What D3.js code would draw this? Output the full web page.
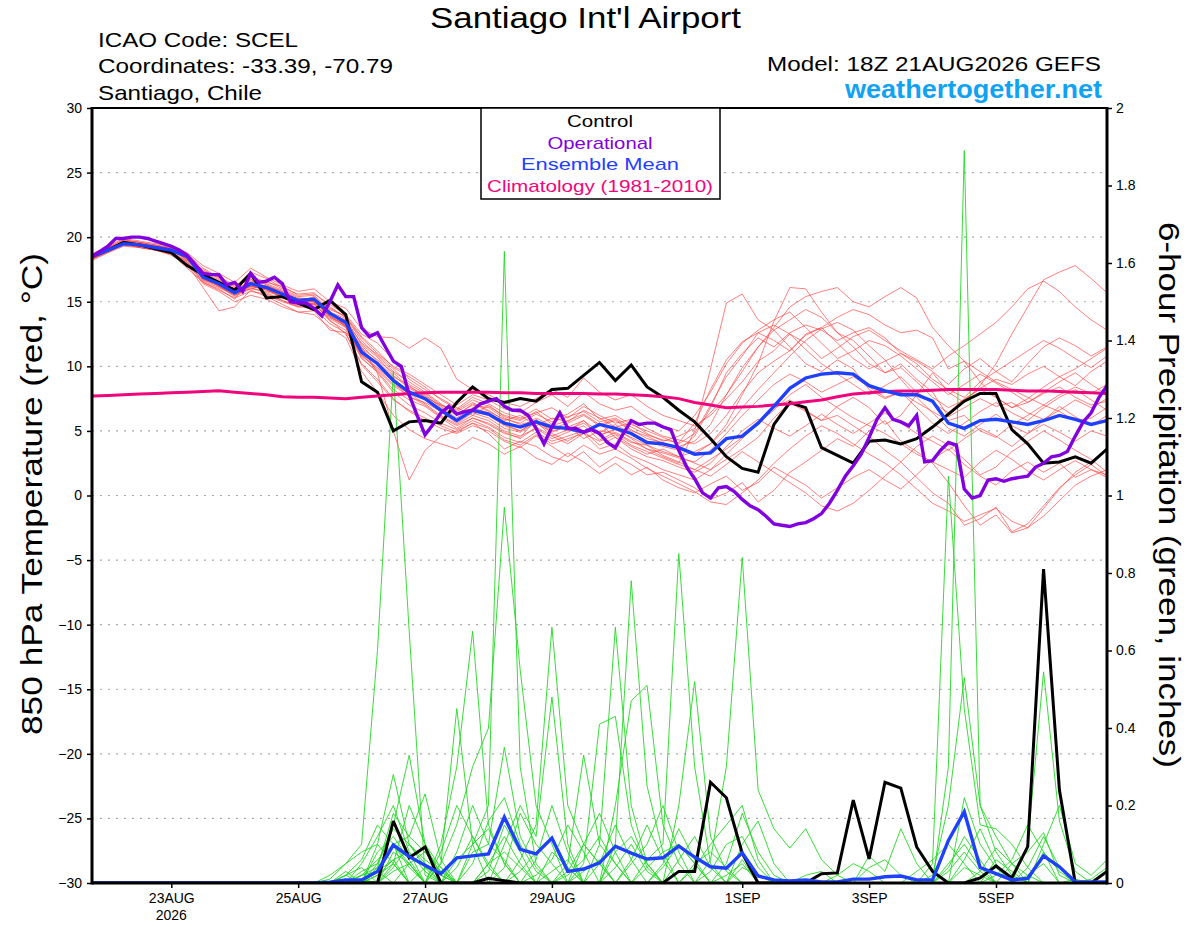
<!DOCTYPE html>
<html>
<head>
<meta charset="utf-8">
<script src="https://cdn.jsdelivr.net/npm/d3@7"></script>
<style>
	body { margin: 0; background: #fff; }
	svg { display: block; }
	text { font-family: "Liberation Sans", Arial, Helvetica, sans-serif; }
</style>
</head>
<body>
<svg id="chart" width="1200" height="927"></svg>
<script>
// run 18Z 21AUG2026, 6-hourly steps (operational is 3-hourly)
const runStart = new Date(Date.UTC(2026, 7, 21, 18));
const runEnd = new Date(Date.UTC(2026, 8, 6, 18));

const tickDates = ["2026-08-23", "2026-08-25", "2026-08-27", "2026-08-29", "2026-09-01", "2026-09-03", "2026-09-05"];
const tickLabels = ["23AUG", "25AUG", "27AUG", "29AUG", "1SEP", "3SEP", "5SEP"];
const tempTicks = [30, 25, 20, 15, 10, 5, 0, -5, -10, -15, -20, -25, -30];
const gridTemps = [25, 20, 15, 10, 5, 0, -5, -10, -15, -20, -25];
const precipTicks = [0, 0.2, 0.4, 0.6, 0.8, 1, 1.2, 1.4, 1.6, 1.8, 2];

const legendItems = ["Control", "Operational", "Ensemble Mean", "Climatology (1981-2010)"];

// 850 hPa temperature, deg C
const controlTemp = [18.5,19.0,19.6,19.4,19.1,18.8,17.8,17.1,16.5,15.9,
	17.2,15.3,15.4,14.9,14.4,15.1,14.0,8.8,8.0,5.0,
	5.7,5.8,5.6,7.2,8.4,7.5,7.2,7.5,7.3,8.2,
	8.3,9.3,10.3,8.9,10.1,8.4,7.6,6.6,5.7,4.4,
	3.0,2.1,1.8,5.5,7.2,6.8,3.7,3.1,2.5,4.2,
	4.3,4.0,4.4,5.3,6.3,7.3,7.9,7.9,5.1,4.0,
	2.5,2.6,3.0,2.5,3.6];

const operationalTemp = [18.5,18.9,19.3,19.9,19.9,20.0,20.0,19.9,19.7,19.5,
	19.3,19.0,18.6,17.9,17.2,17.1,17.1,16.3,16.5,15.8,
	17.2,16.5,16.6,16.9,16.4,15.0,14.9,14.9,14.5,13.9,
	15.0,16.3,15.4,15.4,13.0,12.3,12.6,11.5,10.4,10.0,
	7.8,6.2,4.7,5.5,6.4,6.9,6.3,6.5,6.6,7.1,
	7.3,7.5,6.9,6.6,6.6,6.2,5.2,4.0,5.3,6.4,
	5.2,5.2,4.9,5.1,4.8,4.1,3.7,4.8,5.8,5.5,
	5.6,5.6,5.3,5.1,3.5,2.2,1.3,0.2,-0.2,0.6,
	0.7,0.3,-0.3,-0.8,-1.1,-1.6,-2.2,-2.3,-2.4,-2.2,
	-2.1,-1.8,-1.4,-0.6,0.4,1.5,2.3,3.2,4.5,5.9,
	6.8,5.9,5.7,5.4,6.2,2.6,2.7,3.5,4.1,3.9,
	0.5,-0.2,0.0,1.2,1.3,1.1,1.3,1.4,1.5,2.2,
	2.5,3.0,3.1,3.4,4.6,5.7,6.4,7.6,8.5];

const meanTemp = [18.5,19.0,19.5,19.4,19.2,19.0,18.5,16.9,16.4,15.7,
	16.4,16.1,15.6,15.1,15.2,14.1,13.4,11.1,10.2,8.9,
	8.0,7.5,6.6,5.8,6.6,6.3,5.6,5.3,5.7,5.3,
	5.2,4.9,5.5,5.2,4.8,4.1,4.0,3.7,3.2,3.3,
	4.4,4.6,5.6,6.9,8.3,9.1,9.4,9.5,9.4,8.5,
	8.1,7.8,7.8,7.3,5.6,5.2,5.8,5.9,5.7,5.5,
	5.8,6.2,5.9,5.5,5.8];

const climoTemp = [7.7,7.75,7.8,7.85,7.9,7.95,8.0,8.05,8.1,8.0,
	7.9,7.8,7.65,7.6,7.6,7.55,7.5,7.6,7.7,7.8,
	7.9,7.95,8.0,8.0,8.0,8.0,7.95,7.95,7.9,7.9,
	7.9,7.9,7.85,7.85,7.8,7.75,7.65,7.5,7.2,7.0,
	6.8,6.85,6.9,7.0,7.1,7.25,7.4,7.65,7.85,7.95,
	8.05,8.1,8.1,8.15,8.2,8.2,8.2,8.2,8.15,8.1,
	8.1,8.05,8.0,7.95,7.9];

// ensemble members, 850 hPa temperature
const ensembleTemp = [
	[18.6,19.2,19.8,19.6,19.4,19.1,18.2,17.5,16.8,16.2,17.0,16.5,16.2,15.5,15.6,14.8,14.0, 12.5,11.8,10.5,9.0,8.2,7.5, 6.8,6.2,7.0,6.1,5.8,6.5,5.5,5.0,5.8,4.6,5.2,4.4,3.6,3.0,2.5, 5.0,9.8,14.9,15.6,13.6,12.8,11.5,10.2,9.6,10.5,9.8,8.2,7.5,8.0,7.2,6.5, 5.8,6.2,5.0,4.5,5.5,6.2,7.0,6.5,5.8,6.0,6.8],
	[18.4,19.1,19.6,19.5,19.0,18.7,17.6,16.5,16.0,15.2,16.8,15.5,15.0,14.6,14.9,13.5,12.8, 10.6,9.6,8.2,7.4,6.9,6.0, 5.2,6.0,5.5,4.8,4.5,5.9,4.8,4.2,5.0,5.6,4.5,3.8,3.2,3.6,3.0, 3.4,4.0,5.5,7.8,10.2,13.5,16.1,16.0,14.2,12.6,12.0,10.8,9.5,10.2,9.0,8.0, 6.1,6.8,7.5,6.9,7.2,6.4,5.9,6.6,7.4,6.8,7.5],
	[18.5,19.0,19.7,19.3,19.3,19.2,18.6,17.2,16.2,15.6,16.0,16.3,15.8,15.2,15.0,13.9,13.2, 11.6,10.4,9.2,8.5,7.6,7.0, 6.5,7.2,6.6,5.8,6.2,5.4,6.0,5.7,6.6,6.0,5.3,5.6,4.8,4.2,4.6, 5.2,6.4,7.8,9.6,11.5,13.0,14.6,15.4,15.8,16.1,15.0,14.6,15.4,16.1,15.3,13.0, 11.6,10.4,8.8,7.6,6.8,7.2,7.9,8.4,7.6,7.0,7.3],
	[18.3,18.9,19.4,19.5,19.1,18.9,18.4,16.8,16.5,15.9,16.2,16.0,15.3,15.0,15.4,14.3,13.0, 10.8,9.9,8.8,7.6,7.2,6.5, 5.6,6.4,6.0,5.2,4.9,5.6,4.9,5.4,4.4,5.0,4.8,4.1,3.9,3.4,3.0, 2.5,2.0,2.8,3.6,4.5,6.0,7.2,6.5,5.8,6.9,7.6,6.8,5.5,6.2,7.8,9.5, 8.0,7.2,8.5,10.2,12.5,14.6,16.7,17.3,17.8,16.8,15.7],
	[18.7,19.3,19.9,19.7,19.5,19.3,18.8,17.8,17.2,16.5,17.6,16.9,16.3,15.8,16.0,15.0,14.5, 12.9,12.3,12.2,11.4,12.2,11.4, 9.0,8.2,7.8,7.2,6.9,7.5,8.2,7.6,9.1,8.0,7.4,7.8,6.9,6.2,5.8, 5.4,6.2,7.5,8.8,10.4,11.2,12.5,11.8,10.6,11.4,12.3,12.8,12.0,11.2,10.5,9.8, 10.8,11.6,12.5,13.4,14.6,16.0,16.6,15.8,14.6,13.6,12.8],
	[18.4,18.9,19.5,19.2,19.0,18.6,17.9,16.1,14.3,14.6,15.9,15.4,14.8,14.2,14.3,12.8,12.6, 11.5,9.5,5.0,1.2,3.5,4.6, 5.0,5.6,4.8,3.6,4.2,3.8,3.0,2.6,3.4,2.2,3.0,2.4,1.6,1.8,1.2, 0.6,-0.3,0.2,1.0,-0.5,0.4,1.8,2.6,3.5,4.4,3.8,5.0,5.8,4.2,3.4,2.5, 1.0,-0.8,-2.3,-1.5,-2.9,-2.5,-1.0,0.5,1.8,2.6,3.5],
	[18.5,19.1,19.6,19.4,19.2,19.0,18.3,17.0,16.4,15.9,16.6,16.4,15.9,15.3,15.2,14.5,13.8, 12.0,10.8,9.6,8.8,8.0,7.1, 6.3,7.0,6.8,6.0,5.5,5.8,5.2,5.6,6.2,5.4,5.8,5.0,4.6,4.0,3.8, 4.2,5.5,7.8,9.9,11.5,12.8,13.6,14.4,13.8,12.6,11.5,10.2,9.5,9.9,8.8,7.6, 6.8,7.4,8.3,9.0,8.6,9.4,10.0,9.2,8.5,9.6,10.4],
	[18.2,18.8,19.3,19.2,19.0,18.7,18.0,16.4,15.8,15.0,15.5,15.2,14.6,14.2,14.0,13.0,12.2, 9.6,8.0,6.2,5.1,4.4,4.0, 3.6,4.5,4.0,3.2,3.8,2.9,2.4,3.3,2.6,1.7,2.5,1.6,2.2,1.2,0.6, 0.2,0.9,1.5,0.4,1.0,2.2,1.5,0.8,-0.2,0.6,1.4,2.0,1.2,0.5,1.6,2.8, 3.6,2.4,1.5,0.8,1.9,2.6,1.8,2.5,1.4,2.0,1.6],
	[18.6,19.0,19.5,19.5,19.3,19.1,18.7,17.3,16.7,16.0,16.5,16.2,15.7,15.2,15.0,14.0,13.6, 11.4,10.5,9.5,8.4,7.8,6.8, 6.0,6.8,6.4,5.5,5.0,5.8,5.0,5.3,5.8,4.9,5.5,4.8,4.2,3.8,3.5, 4.6,6.8,9.5,11.0,12.2,11.5,12.6,13.2,12.8,12.0,12.6,13.0,12.2,11.0,10.4,9.6, 8.6,9.8,10.6,9.6,8.8,10.2,11.5,12.2,11.6,10.8,11.5],
	[18.5,19.0,19.4,19.3,19.1,18.9,18.5,16.7,16.2,15.4,16.0,15.8,15.4,14.9,15.1,13.8,13.1, 11.0,9.8,8.6,7.9,7.1,6.2, 5.5,6.2,5.8,5.0,4.6,5.2,4.4,4.9,5.4,4.3,4.9,4.2,3.6,3.3,2.9, 2.6,3.5,4.8,6.2,7.4,8.6,9.4,8.8,8.0,8.6,9.2,8.4,7.6,8.0,6.8,5.6, 4.8,5.6,6.5,7.2,6.4,5.8,6.8,7.6,8.2,7.4,6.6],
	[18.4,19.0,19.6,19.4,19.1,18.8,18.1,16.6,16.1,15.5,16.1,15.7,15.1,14.7,14.8,13.6,12.5, 10.2,9.0,7.5,6.5,5.8,5.2, 4.8,5.4,5.0,4.2,3.7,4.6,3.8,3.0,3.9,3.2,3.6,2.9,2.1,1.5,0.9, 0.3,-0.5,-0.7,0.2,1.2,2.5,3.6,4.6,5.4,4.8,4.0,3.2,2.5,1.6,0.5,-0.6, -1.2,-2.0,-1.5,-1.0,-2.0,-2.5,-1.6,-0.4,0.8,1.5,2.0],
	[18.6,19.1,19.7,19.6,19.3,19.0,18.4,17.1,16.6,16.0,16.9,16.3,15.6,15.1,15.3,14.2,13.5, 11.8,10.9,9.8,8.6,7.9,7.0, 6.6,7.4,6.9,6.2,5.9,6.4,6.8,6.0,6.9,6.2,5.6,5.9,5.2,4.6,4.3, 4.0,4.8,6.2,8.0,9.5,10.4,11.2,12.5,13.0,13.8,14.4,14.0,13.2,12.6,12.8,12.2, 9.8,10.4,9.6,8.8,8.2,7.6,7.0,7.8,8.4,7.9,8.6],
	[18.3,18.9,19.4,19.3,19.0,18.8,18.2,16.9,16.3,15.6,16.3,15.9,15.5,15.0,14.8,13.7,13.0, 10.7,9.5,8.0,7.0,6.4,5.6, 5.1,5.8,5.3,4.5,4.1,4.9,4.2,4.6,5.0,3.9,4.5,3.6,3.0,2.7,2.2, 1.8,2.5,3.8,5.0,5.9,5.2,4.6,5.4,6.3,5.5,4.8,5.6,6.4,5.6,4.8,4.2, 3.5,4.4,5.2,4.6,3.8,4.8,5.5,4.9,4.2,5.0,4.6],
	[18.5,19.1,19.5,19.4,19.2,19.0,18.6,17.4,16.9,16.3,16.7,16.6,16.0,15.4,15.5,14.4,13.9, 12.3,11.2,9.9,9.2,8.4,7.4, 6.7,7.6,7.1,6.4,6.0,6.7,5.9,6.3,7.1,5.9,6.2,5.5,5.0,4.5,4.0, 4.8,7.0,9.2,10.8,12.6,13.2,12.5,11.3,10.2,9.4,8.6,7.8,8.5,9.2,8.0,7.2, 6.4,7.5,8.2,7.6,6.8,7.5,8.4,9.2,9.8,10.6,11.4],
	[18.4,18.9,19.5,19.3,19.1,18.9,18.3,16.7,16.3,15.7,16.2,16.0,15.3,14.8,14.9,13.8,13.2, 11.2,10.1,8.9,8.1,7.4,6.6, 5.8,6.5,6.2,5.4,5.0,5.7,4.6,5.1,5.6,4.7,5.1,4.5,3.9,3.1,2.6, 2.0,1.5,2.4,3.4,2.6,1.8,1.0,0.2,-0.8,-1.2,-0.6,0.4,1.5,2.6,3.8,4.6, 3.9,2.8,1.6,2.2,3.4,4.2,5.0,4.3,3.5,2.8,1.8],
	[18.6,19.2,19.6,19.5,19.3,19.1,18.5,17.1,16.5,15.8,16.4,16.1,15.6,15.1,15.2,14.1,13.4, 11.3,10.2,9.1,8.0,7.5,6.7, 5.9,6.6,6.3,5.6,5.3,6.0,5.4,5.8,6.3,5.5,5.9,5.1,4.4,4.1,3.6, 3.2,4.0,5.2,6.8,8.2,9.5,10.8,12.0,12.9,13.4,12.8,11.6,10.5,9.0,7.6,6.4, 5.2,4.6,5.5,6.3,5.4,4.8,5.8,6.9,6.1,5.4,6.2],
	[18.5,19.0,19.5,19.4,19.2,18.9,18.4,16.8,16.2,15.5,16.2,15.9,15.4,14.9,15.0,13.9,13.1, 10.9,9.7,8.5,7.7,7.0,6.1, 5.4,6.0,5.6,4.9,4.4,5.3,4.6,4.0,4.8,4.2,4.7,3.9,3.4,2.9,2.4, 2.0,2.8,3.6,4.5,5.6,6.8,7.4,6.6,5.8,6.2,5.4,4.6,3.5,2.6,1.4,0.2, -0.6,-2.3,-1.8,-0.9,-2.8,-2.2,-0.8,0.6,1.6,2.4,1.5],
	[18.4,19.0,19.6,19.5,19.2,19.0,18.5,17.0,16.4,15.8,16.5,16.2,15.8,15.2,15.3,14.2,13.7, 11.7,10.7,9.3,8.3,7.7,6.9, 6.2,7.1,6.5,5.9,5.6,6.3,5.7,6.1,6.5,5.7,6.0,5.3,4.7,4.3,4.1, 5.6,8.2,10.5,11.9,12.6,12.0,11.2,12.4,13.0,11.8,10.6,9.8,10.4,11.0,10.2,9.0, 8.2,7.6,8.8,9.6,10.4,11.2,12.0,11.4,10.6,9.9,10.8],
	[18.3,18.8,19.4,19.2,19.0,18.7,18.1,16.5,15.9,15.3,15.8,15.6,15.1,14.6,14.5,13.3,12.6, 10.1,8.8,7.4,6.6,6.0,5.4, 4.9,5.6,5.2,4.3,3.9,4.7,4.0,4.4,4.8,3.6,4.0,3.1,2.6,2.0,1.6, 1.2,2.0,3.2,4.4,5.6,6.6,7.8,8.6,7.6,6.8,6.0,5.4,4.8,4.0,3.2,2.6, 2.0,1.4,2.6,3.5,2.8,1.9,1.2,2.0,2.7,2.0,1.4],
	[18.7,19.2,19.8,19.6,19.4,19.2,18.7,17.6,16.9,16.1,17.3,16.8,16.1,15.6,15.7,14.6,13.8, 12.2,11.0,10.0,9.4,8.6,7.8, 7.0,7.8,7.4,6.7,6.4,7.2,7.8,6.9,8.0,7.1,6.6,6.9,6.0,5.4,5.0, 6.2,8.0,10.2,11.8,12.8,13.6,14.2,13.0,11.8,10.6,11.2,12.0,11.6,10.8,9.8,8.8, 7.8,8.6,9.4,8.7,8.0,7.2,8.0,8.8,9.5,8.6,7.8]
];

// 6-hour precipitation, inches
const controlPrecip = [0,0,0,0,0, 0,0,0,0,0, 0,0,0,0,0, 0,0,0,0,0.16,
	0.065,0.093,0,0,0, 0.012,0.006,0,0,0, 0,0,0,0,0, 0,0,0.03,0.03,0.26,
	0.22,0.077,0,0,0, 0,0.024,0.026,0.214,0.062, 0.26,0.245,0.093,0.03,0,
	0,0.013,0.044,0.013,0.094, 0.81,0.24,0,0,0.03];

const meanPrecip = [0,0,0,0,0, 0,0,0,0,0, 0,0,0,0,0, 0.002,0.008,0.008,0.03,0.098,
	0.068,0.046,0.024,0.065,0.07, 0.075,0.17,0.087,0.075,0.116, 0.03,0.036,0.052,0.095,0.077,
	0.062,0.065,0.095,0.067,0.042, 0.038,0.078,0.018,0.008,0.005, 0.008,0.003,0.003,0.01,0.01,
	0.016,0.018,0.008,0.008,0.11, 0.184,0.04,0.024,0.008,0.012, 0.07,0.042,0.003,0.003,0.003];

const ensemblePrecip = [
	[0,0,0,0,0,0,0,0,0,0,0,0,0,0,0, .02,.05,.1,.6,1.32, .65,.02,0,0,0, .05,.12,.05,0,0, 0,0,0,.08,.12, .05,0,0,0,0, 0,.06,0,0,0, 0,0,0,0,0, 0,0,0,0,0, .04,.02,0,0,0, 0,0,0,0,0],
	[0,0,0,0,0,0,0,0,0,0,0,0,0,0,0, 0,.02,.04,0,.08, .05,0,0,0,.1, .2,1.63,.3,.05,0, 0,.03,.06,0,0, 0,.04,.1,.05,0, 0,0,0,0,0, 0,0,0,0,0, 0,0,0,0,.03, .08,.03,0,0,0, 0,0,0,0,0],
	[0,0,0,0,0,0,0,0,0,0,0,0,0,0,0, 0,0,.02,.06,.1, 0,0,.05,.15,.3, .4,.97,.55,.2,.1, 0,0,0,.04,.1, .03,0,0,0,0, .02,.05,0,0,0, 0,0,0,0,0, 0,0,0,0,0, 0,0,0,0,.02, .05,0,0,0,0],
	[0,0,0,0,0,0,0,0,0,0,0,0,0,0,0, 0,.03,0,.1,.05, 0,0,.1,.3,.65, .15,.05,0,0,.08, .04,0,0,0,0, 0,0,.2,.52,.12, .03,0,0,0,0, 0,0,0,0,0, 0,0,0,0,.05, .1,.04,0,0,0, 0,0,0,0,0],
	[0,0,0,0,0,0,0,0,0,0,0,0,0,0,0, 0,0,.05,.12,.2, .08,0,.05,.45,.1, 0,0,.06,.15,.66, .2,.1,.05,0,0, 0,0,0,0,0, 0,.04,.02,0,0, 0,0,0,0,0, 0,0,0,0,0, 0,0,.06,.03,0, 0,0,0,0,0],
	[0,0,0,0,0,0,0,0,0,0,0,0,0,0,0, .01,.05,.08,.1,.28, .1,.04,0,0,0, 0,.1,.2,.12,.48, .1,0,0,0,0, .06,.1,.85,.3,.05, 0,0,0,0,0, 0,0,0,0,0, 0,0,0,0,0, 0,0,0,0,0, .08,.03,0,0,0],
	[0,0,0,0,0,0,0,0,0,0,0,0,0,0,0, 0,0,.03,.05,.15, .33,.1,.02,0,0, 0,0,0,0,0, .05,.33,.1,.05,0, 0,0,0,0,.06, .3,.84,.24,.14,.09, .14,.06,.02,0,.07, .03,.14,.05,0,0, 0,0,0,0,0, 0,0,0,0,0],
	[0,0,0,0,0,0,0,0,0,0,0,0,0,0,0, 0,0,0,.04,.1, .12,.23,.06,0,.08, .1,.35,.12,.04,0, 0,.05,.41,.43,.15, .04,0,0,0,0, 0,0,0,0,0, 0,0,0,0,0, 0,0,0,.02,.2, .53,.2,.08,.02,0, 0,0,0,0,0],
	[0,0,0,0,0,0,0,0,0,0,0,0,0,0,0, 0,0,0,.02,.05, 0,0,0,.04,.12, .05,0,0,0,0, 0,0,.1,.66,.2, .05,0,0,0,0, 0,0,0,0,0, 0,0,0,0,0, 0,0,0,.05,1.05, .45,.15,.14,.1,.04, 0,0,0,0,0],
	[0,0,0,0,0,0,0,0,0,0,0,0,0,0,0, 0,0,.02,.03,0, .05,.08,.04,0,0, 0,0,0,0,0, 0,0,0,.1,.78, .25,.08,0,0,0, 0,0,0,0,0, 0,0,0,0,0, 0,0,0,0,.3, 1.89,.2,.12,.05,.02, 0,0,0,0,0],
	[0,0,0,0,0,0,0,0,0,0,0,0,0,0,0, 0,.02,0,.08,.12, .06,0,0,0,0, .05,.08,.04,0,0, 0,0,0,.2,.47, .51,.15,.05,0,0, 0,0,0,0,0, 0,0,0,0,0, 0,0,0,0,0, 0,0,0,0,.1, .545,.16,.03,0,0],
	[0,0,0,0,0,0,0,0,0,0,0,0,0,0,0, 0,0,0,.03,.06, 0,.04,.02,0,0, 0,0,.03,.08,.12, .04,0,0,0,0, 0,0,0,.04,.1, .15,.2,.06,0,0, 0,0,0,0,0, 0,0,0,0,0, .22,.1,.04,0,0, 0,0,.01,0,0],
	[0,0,0,0,0,0,0,0,0,0,0,0,0,0,0, 0,0,.01,0,.04, .1,.05,0,.06,.1, .14,.05,0,0,0, .02,.06,.12,.05,0, 0,.05,.14,.06,0, 0,0,0,0,0, 0,0,0,0,0, 0,0,0,0,0, 0,0,0,.05,.08, .13,.02,0,0,0],
	[0,0,0,0,0,0,0,0,0,0,0,0,0,0,0, 0,.01,0,.02,.06, .08,.03,0,0,0, 0,.04,.18,.1,.05, 0,0,0,0,.05, .1,.2,.08,0,0, 0,0,0,0,0, 0,0,0,0,.04, .06,.02,0,0,0, 0,.03,.09,.05,0, 0,0,0,0,0],
	[0,0,0,0,0,0,0,0,0,0,0,0,0,0,0, 0,0,0,.05,.14, .1,.06,.03,0,0, 0,0,0,.02,.06, .15,.08,0,0,0, 0,0,0,0,.03, .1,.12,.04,0,0, .02,.03,0,0,0, 0,0,0,0,0, .06,.14,.05,0,0, 0,0,0,0,0],
	[0,0,0,0,0,0,0,0,0,0,0,0,0,0,0, 0,0,0,0,.03, .05,0,0,.08,.2, .1,.06,0,0,0, 0,.1,.18,.08,0, 0,0,0,.05,.08, .04,0,0,0,0, 0,0,0,0,0, 0,0,0,0,0, 0,0,0,0,0, .1,.2,.05,.02,.06],
	[0,0,0,0,0,0,0,0,0,0,0,0,0,0,0, 0,0,.02,.04,.18, .12,.08,.03,0,0, 0,0,0,.06,.2, .08,0,0,0,0, .04,.08,.1,.05,0, 0,0,0,0,0, 0,0,.02,.05,.03, 0,0,0,0,0, 0,0,0,0,.04, .12,.04,0,0,0],
	[0,0,0,0,0,0,0,0,0,0,0,0,0,0,0, 0,0,0,0,.05, .2,.1,.04,0,0, .03,.15,.08,0,.03, .06,0,0,0,.06, .15,.06,0,0,0, 0,.1,.16,.05,0, 0,0,0,0,0, 0,0,0,0,.04, .12,.06,0,0,0, 0,0,0,0,0],
	[0,0,0,0,0,0,0,0,0,0,0,0,0,0,0, 0,0,0,.03,.1, .04,0,0,0,.05, .16,.22,.1,.03,0, 0,0,.05,.15,.06, 0,0,0,0,0, .05,.18,.08,.02,0, 0,0,0,0,0, 0,0,.03,.06,.1, .05,0,0,0,0, 0,0,0,.01,.04],
	[0,0,0,0,0,0,0,0,0,0,0,0,0,0,0, 0,.02,.06,.15,.1, .05,0,.08,.2,.12, .04,0,0,0,0, .03,.1,.05,0,0, 0,0,.06,.12,.04, 0,0,0,0,0, 0,0,0,0,0, 0,0,0,0,0, 0,0,.02,.06,.15, .08,0,0,0,0]
];

const colors = {
	member: "#ff3a3a",
	precip: "#22d822",
	control: "#000000",
	operational: "#8200e0",
	mean: "#1f40ff",
	climo: "#f0067c",
	grid: "#a8a8a8",
	brand: "#12a2f4",
};

const margin = { left: 92, right: 1107, top: 108, bottom: 883 };

const svg = d3.select("#chart");

const x = d3.scaleUtc().domain([runStart, runEnd]).range([margin.left, margin.right]);
const yT = d3.scaleLinear().domain([-30, 30]).range([margin.bottom, margin.top]);
const yP = d3.scaleLinear().domain([0, 2]).range([margin.bottom, margin.top]);

const timeAt = (i, hours) => new Date(runStart.getTime() + i * hours * 3600e3);

const tempLine = (hours) =>
	d3
		.line()
		.x((d, i) => x(timeAt(i, hours)))
		.y((d) => yT(d));
const precipLine = d3
	.line()
	.x((d, i) => x(timeAt(i, 6)))
	.y((d) => yP(d));

svg.append("rect").attr("width", 1200).attr("height", 927).attr("fill", "#fff");

svg
	.append("clipPath")
	.attr("id", "plot-clip")
	.append("rect")
	.attr("x", margin.left)
	.attr("y", margin.top)
	.attr("width", margin.right - margin.left)
	.attr("height", margin.bottom - margin.top);

// dotted grid
svg
	.append("g")
	.selectAll("line")
	.data(gridTemps)
	.join("line")
	.attr("x1", margin.left)
	.attr("x2", margin.right)
	.attr("y1", (d) => yT(d))
	.attr("y2", (d) => yT(d))
	.attr("stroke", colors.grid)
	.attr("stroke-width", 1.2)
	.attr("stroke-dasharray", "2,6");

const g = svg.append("g").attr("clip-path", "url(#plot-clip)");

g.append("g")
	.selectAll("path")
	.data(ensembleTemp)
	.join("path")
	.attr("d", tempLine(6))
	.attr("fill", "none")
	.attr("stroke", colors.member)
	.attr("stroke-opacity", 0.72)
	.attr("stroke-width", 0.9);

g.append("g")
	.selectAll("path")
	.data(ensemblePrecip)
	.join("path")
	.attr("d", precipLine)
	.attr("fill", "none")
	.attr("stroke", colors.precip)
	.attr("stroke-width", 0.9);

const thick = (data, gen, color, width) =>
	g
		.append("path")
		.datum(data)
		.attr("d", gen)
		.attr("fill", "none")
		.attr("stroke", color)
		.attr("stroke-width", width)
		.attr("stroke-linejoin", "miter")
		.attr("stroke-miterlimit", 3);

thick(controlPrecip, precipLine, colors.control, 3);
thick(meanPrecip, precipLine, colors.mean, 3.4);
thick(controlTemp, tempLine(6), colors.control, 3);
thick(climoTemp, tempLine(6), colors.climo, 3);
thick(meanTemp, tempLine(6), colors.mean, 3.4);
thick(operationalTemp, tempLine(3), colors.operational, 3.4);

// axes
const axisL = svg
	.append("g")
	.attr("transform", `translate(${margin.left},0)`)
	.call(d3.axisLeft(yT).tickValues(tempTicks).tickSize(5).tickSizeOuter(0).tickPadding(5));
const axisR = svg
	.append("g")
	.attr("transform", `translate(${margin.right},0)`)
	.call(
		d3
			.axisRight(yP)
			.tickValues(precipTicks)
			.tickSize(5)
			.tickSizeOuter(0)
			.tickPadding(4)
			.tickFormat((d) => String(+d.toFixed(1)))
	);
const axisB = svg
	.append("g")
	.attr("transform", `translate(0,${margin.bottom})`)
	.call(
		d3
			.axisBottom(x)
			.tickValues(tickDates.map((d) => new Date(d + "T00:00Z")))
			.tickSize(5)
			.tickSizeOuter(0)
			.tickPadding(5)
			.tickFormat((d, i) => tickLabels[i])
	);

[axisL, axisR, axisB].forEach((a) => {
	a.select(".domain").remove();
	a.selectAll(".tick line").attr("stroke", "#000").attr("stroke-width", 1.5);
	a.selectAll(".tick text")
		.attr("fill", "#000")
		.style("font-size", "14px")
		.style("font-family", '"Liberation Sans", Arial, sans-serif');
});

axisB
	.append("text")
	.attr("x", x(new Date(tickDates[0] + "T00:00Z")))
	.attr("y", 37)
	.attr("text-anchor", "middle")
	.attr("fill", "#000")
	.style("font-size", "14px")
	.text("2026");

// frame
const frame = svg.append("g").attr("stroke", "#000").attr("fill", "none");
frame.append("line").attr("x1", margin.left).attr("x2", margin.right).attr("y1", margin.top).attr("y2", margin.top).attr("stroke-width", 2);
frame.append("line").attr("x1", margin.left).attr("x2", margin.right).attr("y1", margin.bottom).attr("y2", margin.bottom).attr("stroke-width", 3);
frame.append("line").attr("x1", margin.left).attr("x2", margin.left).attr("y1", margin.top - 1).attr("y2", margin.bottom + 1.5).attr("stroke-width", 3);
frame.append("line").attr("x1", margin.right).attr("x2", margin.right).attr("y1", margin.top - 1).attr("y2", margin.bottom + 1.5).attr("stroke-width", 3);

// legend
const legend = svg.append("g");
legend
	.append("rect")
	.attr("x", 481)
	.attr("y", margin.top)
	.attr("width", 239)
	.attr("height", 91)
	.attr("fill", "#fff")
	.attr("stroke", "#000")
	.attr("stroke-width", 1.5);
const legendColors = [colors.control, colors.operational, colors.mean, colors.climo];
const legendWidths = [66, 105, 158, 226];
legend
	.selectAll("text")
	.data(legendItems)
	.join("text")
	.attr("x", (d, i) => 600 - legendWidths[i] / 2)
	.attr("y", (d, i) => 127 + i * 21.6)
	.attr("textLength", (d, i) => legendWidths[i])
	.attr("lengthAdjust", "spacingAndGlyphs")
	.attr("fill", (d, i) => legendColors[i])
	.style("font-size", "17px")
	.text((d) => d);

// headings
const label = (txt, x0, y0, size, len, opts = {}) =>
	svg
		.append("text")
		.attr("x", x0)
		.attr("y", y0)
		.attr("textLength", len)
		.attr("lengthAdjust", "spacingAndGlyphs")
		.attr("fill", opts.fill || "#000")
		.style("font-size", size + "px")
		.style("font-weight", opts.bold ? "bold" : "normal")
		.text(txt);

label("Santiago Int'l Airport", 430, 28, 29, 311);
label("ICAO Code: SCEL", 98, 47, 21, 200);
label("Coordinates: -33.39, -70.79", 98, 73, 21, 295);
label("Santiago, Chile", 98, 100, 21, 164);
label("Model: 18Z 21AUG2026 GEFS", 767, 71, 21, 334);
label("weathertogether.net", 845, 98, 25, 257, { bold: true, fill: colors.brand });

svg
	.append("text")
	.attr("transform", "translate(42,735) rotate(-90)")
	.attr("textLength", 482)
	.attr("lengthAdjust", "spacingAndGlyphs")
	.style("font-size", "29px")
	.text("850 hPa Temperature (red, °C)");

svg
	.append("text")
	.attr("transform", "translate(1159,222) rotate(90)")
	.attr("textLength", 546)
	.attr("lengthAdjust", "spacingAndGlyphs")
	.style("font-size", "29px")
	.text("6-hour Precipitation (green, inches)");
</script>
</body>
</html>
